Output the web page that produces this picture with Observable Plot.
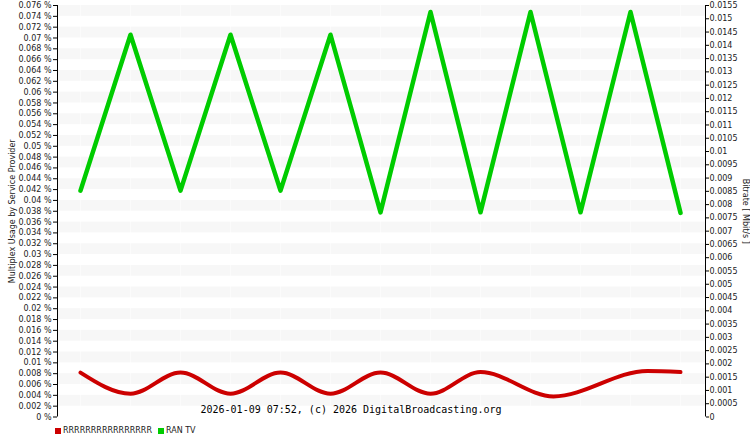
<!DOCTYPE html>
<html>
<head>
<meta charset="utf-8">
<script src="https://cdn.jsdelivr.net/npm/d3@7"></script>
<script src="https://cdn.jsdelivr.net/npm/@observablehq/plot@0.6"></script>
<style>
  html, body { margin: 0; padding: 0; background: white; }
  #chart { width: 750px; height: 437px; position: relative; overflow: hidden; }
  .legend { position: relative; height: 16px; font-family: "DejaVu Sans", Verdana, sans-serif; font-size: 8px; color: #222; }
  .item { position: absolute; top: 5px; display: flex; align-items: center; }
  .sw { width: 6px; height: 6px; margin-right: 2px; }
</style>
</head>
<body>
<div id="chart"></div>
<script>
// ---- data ----
const sampleX = [0, 1, 2, 3, 4, 5, 6, 7, 8, 9, 10, 11, 12];
const ranTV = [0.0418, 0.0706, 0.0418, 0.0706, 0.0418, 0.0706, 0.0378, 0.0748, 0.0378, 0.0748, 0.0378, 0.0748, 0.0377];
const rrrX = [0, 1, 2, 3, 4, 5, 6, 7, 8, 9.46, 11.34, 12];
const rrrValues = [0.0082, 0.0043, 0.0082, 0.0043, 0.0082, 0.0043, 0.0082, 0.0043, 0.0083, 0.0038, 0.0085, 0.0083];
const leftTicks = [0, 0.002, 0.004, 0.006, 0.008, 0.01, 0.012, 0.014, 0.016, 0.018, 0.02, 0.022, 0.024, 0.026, 0.028, 0.03, 0.032, 0.034, 0.036, 0.038, 0.04, 0.042, 0.044, 0.046, 0.048, 0.05, 0.052, 0.054, 0.056, 0.058, 0.06, 0.062, 0.064, 0.066, 0.068, 0.07, 0.072, 0.074, 0.076];
const rightTicks = [0, 0.0005, 0.001, 0.0015, 0.002, 0.0025, 0.003, 0.0035, 0.004, 0.0045, 0.005, 0.0055, 0.006, 0.0065, 0.007, 0.0075, 0.008, 0.0085, 0.009, 0.0095, 0.01, 0.0105, 0.011, 0.0115, 0.012, 0.0125, 0.013, 0.0135, 0.014, 0.0145, 0.015, 0.0155];
const seriesNames = ["RRRRRRRRRRRRRRRR", "RAN TV"];
const seriesColors = ["#cc0000", "#00cc00"];
const leftTitle = "Multiplex Usage by Service Provider";
const rightTitle = "Bitrate [ Mbit/s ]";
const footer = "2026-01-09 07:52, (c) 2026 DigitalBroadcasting.org";

// ---- derived tables ----
const xDomain = [-0.46, 12.5];
const yMax = leftTicks[leftTicks.length - 1];
const rMax = rightTicks[rightTicks.length - 1];
const green = sampleX.map((x, i) => ({x, v: ranTV[i]}));
const red = rrrX.map((x, i) => ({x, v: rrrValues[i]}));
const bands = [];
for (let i = 1; i + 1 < leftTicks.length; i += 2) bands.push({lo: leftTicks[i], hi: leftTicks[i + 1]});
const rightPos = rightTicks.map(t => t * yMax / rMax);
const rightLabel = new Map(rightPos.map((p, i) => [p, String(rightTicks[i])]));

const chart = Plot.plot({
  width: 750,
  height: 421,
  marginTop: 5,
  marginBottom: 4.5,
  marginLeft: 57,
  marginRight: 45,
  x: {domain: xDomain, axis: null},
  y: {domain: [0, yMax]},
  style: {fontFamily: "DejaVu Sans, Verdana, sans-serif", fontSize: "8px", color: "#222", background: "white", overflow: "visible"},
  marks: [
    Plot.rect(bands, {y1: "lo", y2: "hi", fill: "#f7f7f7"}),
    Plot.ruleX(sampleX, {stroke: "white", strokeWidth: 1, strokeOpacity: 0.5}),
    Plot.line(green, {x: "x", y: "v", stroke: seriesColors[1], strokeWidth: 4.5, strokeLinejoin: "round"}),
    Plot.line(red, {x: "x", y: "v", stroke: seriesColors[0], strokeWidth: 4, curve: "monotone-x"}),
    Plot.axisY(leftTicks, {anchor: "left", tickSize: 4, tickPadding: 2, tickFormat: d => d + " %", label: null, stroke: "black"}),
    Plot.axisY(rightPos, {anchor: "right", tickSize: 3, tickPadding: 1, tickFormat: d => rightLabel.get(d), label: null, stroke: "black"}),
    Plot.ruleX(xDomain, {stroke: "black", strokeWidth: 1}),
    Plot.text([footer], {text: d => d, frameAnchor: "bottom-left", dx: 143, dy: -4, textAnchor: "start", lineAnchor: "bottom", fontFamily: "DejaVu Sans Mono, monospace", fontSize: 10, fill: "black"}),
    Plot.text([leftTitle], {text: d => d, frameAnchor: "left", dx: -45, rotate: -90, textAnchor: "middle", lineAnchor: "middle", fill: "#222"}),
    Plot.text([rightTitle], {text: d => d, frameAnchor: "right", dx: 40, rotate: 90, textAnchor: "middle", lineAnchor: "middle", fill: "#222"})
  ]
});

const root = document.getElementById("chart");
root.appendChild(chart);

const legend = document.createElement("div");
legend.className = "legend";
const lefts = [55, 158];
seriesNames.forEach((name, i) => {
  const item = document.createElement("div");
  item.className = "item";
  item.style.left = lefts[i] + "px";
  const sw = document.createElement("span");
  sw.className = "sw";
  sw.style.background = seriesColors[i];
  const lab = document.createElement("span");
  lab.textContent = name;
  item.appendChild(sw);
  item.appendChild(lab);
  legend.appendChild(item);
});
root.appendChild(legend);
</script>
</body>
</html>
